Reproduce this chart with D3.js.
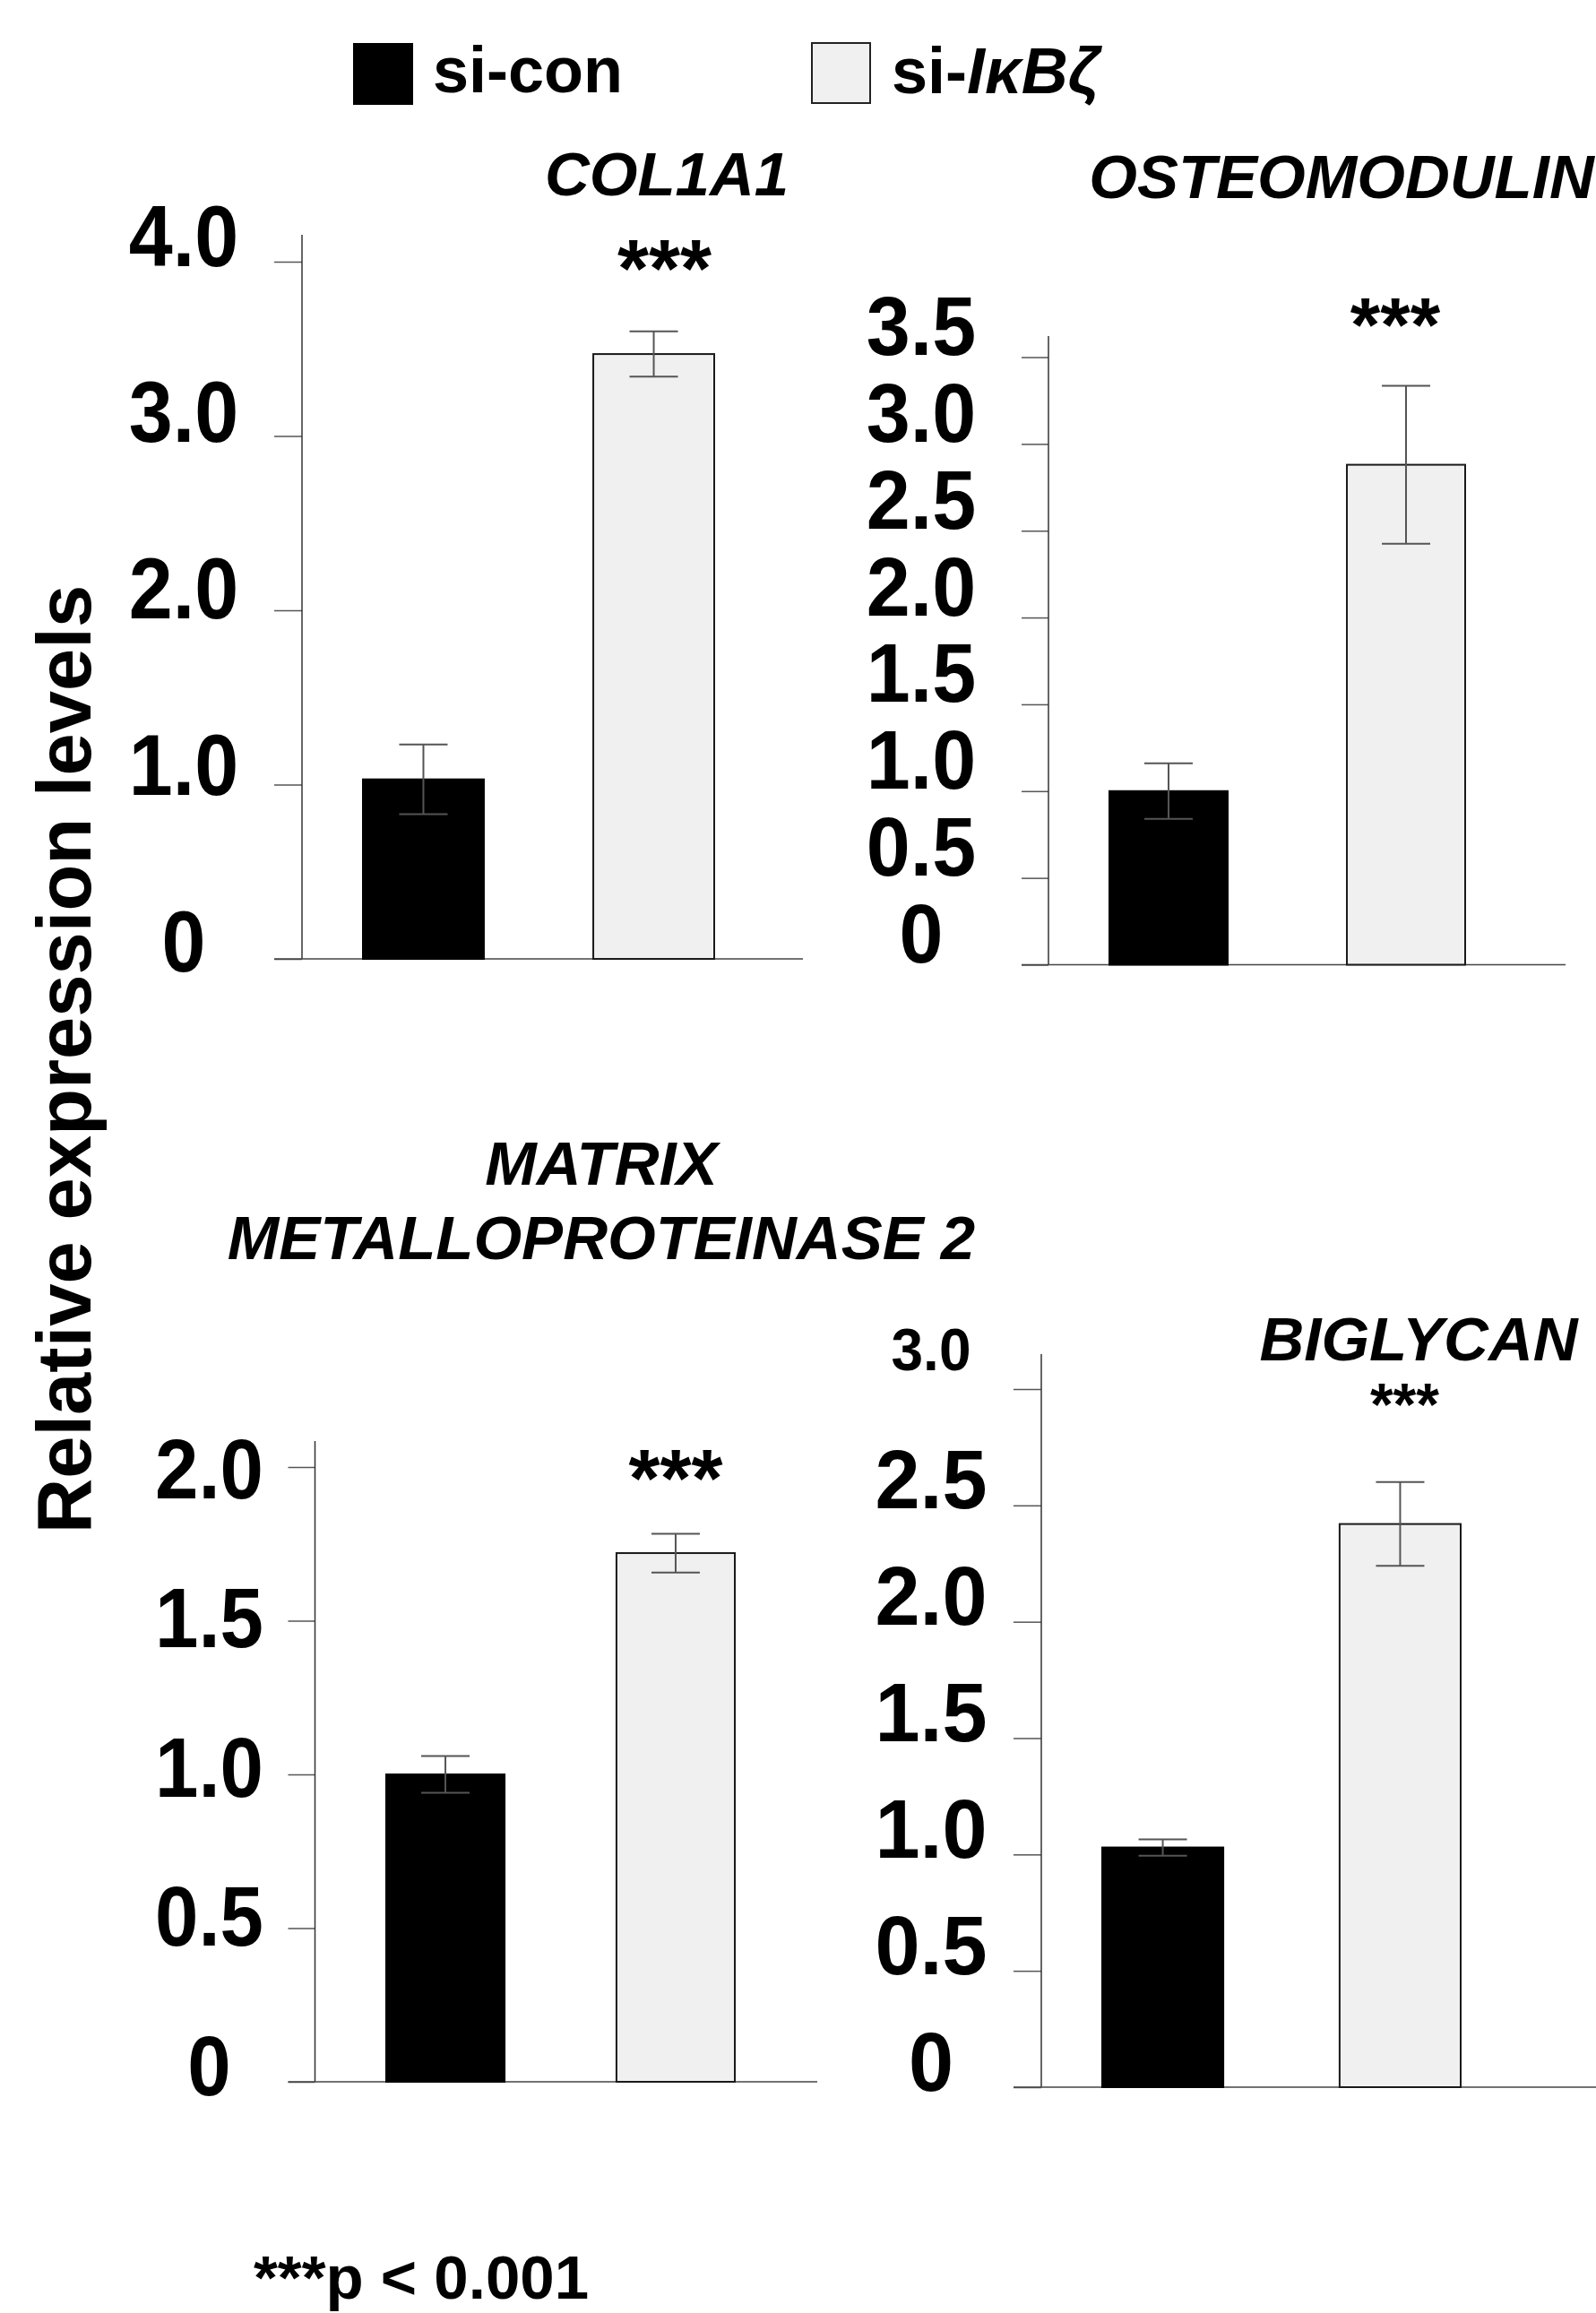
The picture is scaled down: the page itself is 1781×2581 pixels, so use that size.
<!DOCTYPE html>
<html>
<head>
<meta charset="utf-8">
<script src="https://cdn.jsdelivr.net/npm/d3@7"></script>
<style>
  body { margin: 0; background: #fff; }
  svg text { font-family: "Liberation Sans", Arial, sans-serif; font-weight: bold; fill: #000; }
</style>
</head>
<body>
<div id="chart-area"></div>
<script>
// groups and bar colours
const groups = ["si-con", "si-IκBζ"];
const fills = ["#000000", "#f0f0f0"];

// COL1A1
const col1a1Mean = [1.03, 3.47];
const col1a1Err = [0.20, 0.13];
const col1a1Ticks = [0, 1, 2, 3, 4];
const col1a1Labels = ["0", "1.0", "2.0", "3.0", "4.0"];

// OSTEOMODULIN
const omdMean = [1.00, 2.88];
const omdErr = [0.16, 0.455];
const omdTicks = [0, 0.5, 1, 1.5, 2, 2.5, 3, 3.5];
const omdLabels = ["0", "0.5", "1.0", "1.5", "2.0", "2.5", "3.0", "3.5"];

// MATRIX METALLOPROTEINASE 2
const mmp2Mean = [1.00, 1.72];
const mmp2Err = [0.06, 0.063];
const mmp2Ticks = [0, 0.5, 1, 1.5, 2];
const mmp2Labels = ["0", "0.5", "1.0", "1.5", "2.0"];

// BIGLYCAN
const bgnMean = [1.03, 2.42];
const bgnErr = [0.035, 0.18];
const bgnTicks = [0, 0.5, 1, 1.5, 2, 2.5, 3];
const bgnLabels = ["0", "0.5", "1.0", "1.5", "2.0", "2.5", "3.0"];

const width = 1781, height = 2581;

// layout of each small panel
const panels = [
  { title: ["COL1A1"], titleX: 744, titleY: 218,
    mean: col1a1Mean, err: col1a1Err, ticks: col1a1Ticks, labels: col1a1Labels, max: 4,
    axisX: 337, y0: 1070, yTop: 292, axisTop: 262, lineEnd: 896, tickLen: 31,
    barL: 405, barR: 797, pad: 0.475,
    labelX: 205, labelDy: 13, labelDyUnit: -2.2, labelSize: 88, stretch: 1.09,
    starDx: 12, starY: 331, starSize: 90 },
  { title: ["OSTEOMODULIN"], titleX: 1497, titleY: 221,
    mean: omdMean, err: omdErr, ticks: omdTicks, labels: omdLabels, max: 3.5,
    axisX: 1170, y0: 1076.5, yTop: 398.5, axisTop: 375, lineEnd: 1747, tickLen: 30,
    barL: 1238, barR: 1635, pad: 0.502,
    labelX: 1028, labelDy: -3, labelDyUnit: 0, labelSize: 88, stretch: 1.05,
    starDx: -12, starY: 392, starSize: 86 },
  { title: ["MATRIX", "METALLOPROTEINASE 2"], titleX: 671, titleY: 1322,
    mean: mmp2Mean, err: mmp2Err, ticks: mmp2Ticks, labels: mmp2Labels, max: 2,
    axisX: 351.5, y0: 2323, yTop: 1637, axisTop: 1608, lineEnd: 912, tickLen: 30,
    barL: 431, barR: 820, pad: 0.486,
    labelX: 233.5, labelDy: 14, labelDyUnit: 10, labelSize: 87, stretch: 1.08,
    starDx: 0, starY: 1681, starSize: 90 },
  { title: ["BIGLYCAN"], titleX: 1583, titleY: 1518,
    mean: bgnMean, err: bgnErr, ticks: bgnTicks, labels: bgnLabels, max: 3,
    axisX: 1162, y0: 2329, yTop: 1550, axisTop: 1511, lineEnd: 1781, tickLen: 31,
    barL: 1230, barR: 1630, pad: 0.49,
    labelX: 1039, labelDy: 3, labelDyUnit: 0, labelSize: 90, stretch: 1.03,
    topLabelSize: 64, topLabelDy: -22,
    starDx: 5, starY: 1590, starSize: 66 }
];

const svg = d3.select("#chart-area")
  .append("svg")
  .attr("width", width)
  .attr("height", height)
  .style("background", "#fff");

// legend
const legend = [
  { x: 395, y: 49, tx: 483, ty: 103 },
  { x: 906, y: 48, tx: 995, ty: 104 }
];
legend.forEach((l, i) => {
  svg.append("rect")
    .attr("x", l.x).attr("y", l.y)
    .attr("width", 65).attr("height", 67)
    .attr("fill", fills[i])
    .attr("stroke", i === 0 ? "#000" : "#222")
    .attr("stroke-width", 2);
  const t = svg.append("text")
    .attr("x", l.tx).attr("y", l.ty)
    .attr("font-size", 72);
  if (i === 0) {
    t.text(groups[0]);
  } else {
    t.append("tspan").text("si-");
    t.append("tspan").attr("font-style", "italic").text(groups[1].replace("si-", ""));
  }
});

// y axis title
svg.append("text")
  .attr("transform", "translate(101, 1182) rotate(-90)")
  .attr("text-anchor", "middle")
  .attr("font-size", 85)
  .text("Relative expression levels");

panels.forEach((p) => {
  const g = svg.append("g");

  const y = d3.scaleLinear()
    .domain([0, p.max])
    .range([p.y0, p.yTop]);

  const x = d3.scaleBand()
    .domain(groups)
    .range([p.barL, p.barR])
    .paddingInner(p.pad)
    .paddingOuter(0);

  // title
  const title = g.append("text")
    .attr("text-anchor", "middle")
    .attr("font-style", "italic")
    .attr("font-size", 69);
  p.title.forEach((line, i) => {
    title.append("tspan")
      .attr("x", p.titleX)
      .attr("y", p.titleY + i * 83)
      .text(line);
  });

  // y axis
  const yAxisCall = d3.axisLeft(y)
    .tickValues(p.ticks)
    .tickSize(p.tickLen)
    .tickFormat((d) => p.labels[p.ticks.indexOf(d)]);

  const yAxis = g.append("g")
    .attr("transform", `translate(${p.axisX}, 0)`)
    .call(yAxisCall)
    .attr("font-size", null)
    .attr("font-family", null);

  yAxis.select(".domain").remove();
  yAxis.selectAll(".tick line")
    .attr("stroke", "#555")
    .attr("stroke-width", 1.5);
  yAxis.selectAll(".tick text")
    .attr("fill", "#000")
    .attr("text-anchor", "middle")
    .attr("x", p.labelX - p.axisX)
    .attr("dy", null)
    .attr("font-size", (d) => (p.topLabelSize && d === p.max) ? p.topLabelSize : p.labelSize)
    .attr("y", (d) => {
      const dy = (p.topLabelSize && d === p.max) ? p.topLabelDy : p.labelDy + p.labelDyUnit * d;
      return dy / p.stretch;
    })
    .attr("transform", `scale(1, ${p.stretch})`);

  g.append("line")
    .attr("x1", p.axisX).attr("x2", p.axisX)
    .attr("y1", p.axisTop).attr("y2", p.y0)
    .attr("stroke", "#333")
    .attr("stroke-width", 1.5);

  g.append("line")
    .attr("x1", p.axisX - p.tickLen).attr("x2", p.lineEnd)
    .attr("y1", p.y0).attr("y2", p.y0)
    .attr("stroke", "#444")
    .attr("stroke-width", 1.5);

  // bars
  g.selectAll("rect.bar")
    .data(p.mean)
    .enter()
    .append("rect")
    .attr("class", "bar")
    .attr("x", (d, i) => x(groups[i]))
    .attr("width", x.bandwidth())
    .attr("y", (d) => y(d))
    .attr("height", (d) => y(0) - y(d))
    .attr("fill", (d, i) => fills[i])
    .attr("stroke", (d, i) => i === 0 ? "#000" : "#1a1a1a")
    .attr("stroke-width", 2);

  // error bars
  const capW = 54;
  p.mean.forEach((m, i) => {
    const cx = x(groups[i]) + x.bandwidth() / 2;
    const lo = y(m - p.err[i]), hi = y(m + p.err[i]);
    g.append("line")
      .attr("x1", cx).attr("x2", cx)
      .attr("y1", lo).attr("y2", hi)
      .attr("stroke", "#555").attr("stroke-width", 2);
    [lo, hi].forEach((v) => {
      g.append("line")
        .attr("x1", cx - capW / 2).attr("x2", cx + capW / 2)
        .attr("y1", v).attr("y2", v)
        .attr("stroke", "#555").attr("stroke-width", 2);
    });
  });

  // significance
  g.append("text")
    .attr("x", x(groups[1]) + x.bandwidth() / 2 + p.starDx)
    .attr("y", p.starY)
    .attr("text-anchor", "middle")
    .attr("font-size", p.starSize)
    .text("***");
});

// footnote
svg.append("text")
  .attr("x", 283)
  .attr("y", 2565)
  .attr("font-size", 69)
  .text("***p < 0.001");
</script>
</body>
</html>
